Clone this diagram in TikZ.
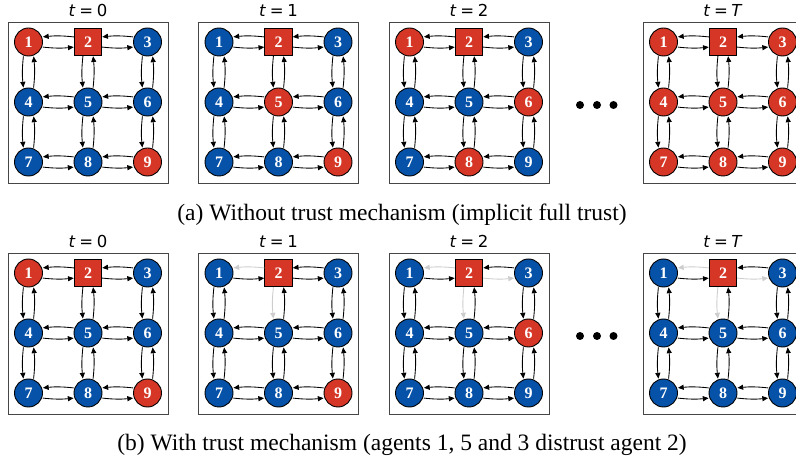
\documentclass[tikz,border=0pt]{standalone}
\usepackage{fontspec}
\setmainfont{Liberation Serif}
\newfontfamily\djv{DejaVu Sans}
\usetikzlibrary{arrows.meta}
\definecolor{nred}{RGB}{214,54,38}
\definecolor{nblue}{RGB}{6,82,168}
\definecolor{edgegray}{RGB}{205,205,205}
\definecolor{framegray}{RGB}{70,70,70}
\tikzset{
  agent/.style={circle,draw=black,line width=0.9pt,minimum size=28pt,inner sep=0pt,text=white,font=\fontsize{16}{16}\selectfont\bfseries},
  leader/.style={rectangle,draw=black,line width=0.9pt,minimum size=27.5pt,inner sep=0pt,fill=nred,text=white,font=\fontsize{16}{16}\selectfont\bfseries},
  conn/.style={-{Triangle[length=5.8pt,width=5pt]},line width=0.85pt,bend right=6},
  frame/.style={draw=framegray,line width=0.9pt},
  ttl/.style={anchor=base,font=\djv\fontsize{16.5}{17}\selectfont,inner sep=0pt},
  capt/.style={anchor=base,font=\fontsize{23.5}{26}\selectfont,inner sep=0pt},
  dotmark/.style={fill=black}
}
\newcommand\eqs{\hspace{0.22em}=\hspace{0.22em}}
% #1 box left, #2 box top (downward), #3 prefix, #4 title, #5 red agents, #6 distrusted edges u/v
\newcommand\gridpanel[6]{%
  \draw[frame] (#1,-#2) rectangle ++(160,-161);
  \node[ttl] (#3t) at (#1+80,-#2+5) {#4};
  \foreach \i in {1,...,9}{%
    \pgfmathtruncatemacro\cc{mod(\i-1,3)}%
    \pgfmathtruncatemacro\rr{div(\i-1,3)}%
    \gdef\ncol{nblue}%
    \foreach \q in {#5}{\ifnum\q=\i\relax\gdef\ncol{nred}\fi}%
    \ifnum\i=2\relax
      \node[leader] (#3\i) at (#1+20.5+59.5*\cc,-#2-20-60*\rr) {\i};
    \else
      \node[agent,fill=\ncol] (#3\i) at (#1+20.5+59.5*\cc,-#2-20-60*\rr) {\i};
    \fi
  }
  % horizontal pairs: u left of v
  \foreach \u/\v in {1/2,2/3,4/5,5/6,7/8,8/9}{%
    \gdef\ecol{black}%
    \foreach \gu/\gv in {#6}{\ifnum\gu=\u\relax\ifnum\gv=\v\relax\gdef\ecol{edgegray}\fi\fi}%
    \draw[conn,draw=\ecol,transform canvas={yshift=-3.6pt}] (#3\u) to (#3\v);
    \gdef\ecol{black}%
    \foreach \gu/\gv in {#6}{\ifnum\gu=\v\relax\ifnum\gv=\u\relax\gdef\ecol{edgegray}\fi\fi}%
    \draw[conn,draw=\ecol,transform canvas={yshift=3.6pt}] (#3\v) to (#3\u);
  }
  % vertical pairs: u above v
  \foreach \u/\v in {1/4,4/7,2/5,5/8,3/6,6/9}{%
    \gdef\ecol{black}%
    \foreach \gu/\gv in {#6}{\ifnum\gu=\u\relax\ifnum\gv=\v\relax\gdef\ecol{edgegray}\fi\fi}%
    \draw[conn,draw=\ecol,transform canvas={xshift=-3.6pt}] (#3\u) to (#3\v);
    \gdef\ecol{black}%
    \foreach \gu/\gv in {#6}{\ifnum\gu=\v\relax\ifnum\gv=\u\relax\gdef\ecol{edgegray}\fi\fi}%
    \draw[conn,draw=\ecol,transform canvas={xshift=3.6pt}] (#3\v) to (#3\u);
  }
}
\begin{document}
\begin{tikzpicture}[x=1pt,y=1pt]
\useasboundingbox (0,0) rectangle (796,-462);
\clip (0,0) rectangle (796,-462);
% (a) row
\gridpanel{8}{22}{a0-}{\textit{t}\eqs0}{1,9}{0/0}
\gridpanel{198.5}{22}{a1-}{\textit{t}\eqs1}{5,9}{0/0}
\gridpanel{389}{22}{a2-}{\textit{t}\eqs2}{1,6,8}{0/0}
\gridpanel{643}{22}{aT-}{\textit{t}\eqs\textit{T}}{1,3,4,5,6,7,8,9}{0/0}
% (b) row
\gridpanel{8}{253}{b0-}{\textit{t}\eqs0}{1,9}{0/0}
\gridpanel{198.5}{253}{b1-}{\textit{t}\eqs1}{9}{2/1,2/5}
\gridpanel{389}{253}{b2-}{\textit{t}\eqs2}{6}{2/1,2/5,2/3}
\gridpanel{643}{253}{bT-}{\textit{t}\eqs\textit{T}}{0}{2/1,2/5,2/3}
% ellipses
\fill[dotmark] (580,-105) circle (4) (597,-105) circle (4) (613.5,-105) circle (4);
\fill[dotmark] (580,-336) circle (4) (597,-336) circle (4) (613.5,-336) circle (4);
% captions
\node[capt] (capa) at (402,-221) {(a) Without trust mechanism (implicit full trust)};
\node[capt] (capb) at (402,-450) {(b) With trust mechanism (agents 1, 5 and 3 distrust agent 2)};
\end{tikzpicture}
\end{document}
